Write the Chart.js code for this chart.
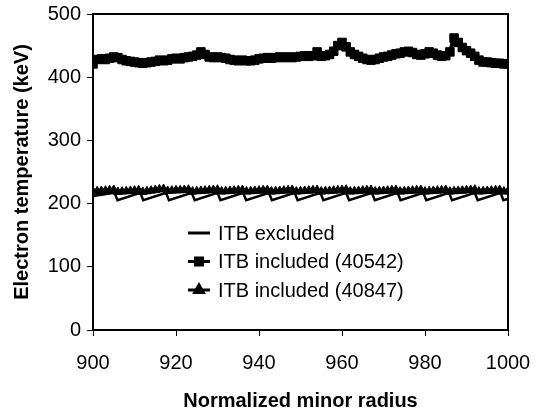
<!DOCTYPE html>
<html>
<head>
<meta charset="utf-8">
<script src="https://cdn.jsdelivr.net/npm/chart.js@4/dist/chart.umd.min.js"></script>
<style>
  html, body { margin: 0; padding: 0; background: #fff; }
  #wrap { width: 548px; height: 411px; }
</style>
</head>
<body>
<div id="wrap"><canvas id="chart" width="548" height="411"></canvas></div>
<script>
// x positions (normalized minor radius) of the two marked series
var radius = [
  900, 901, 902, 903, 904, 905, 906, 907, 908, 909,
  910, 911, 912, 913, 914, 915, 916, 917, 918, 919,
  920, 921, 922, 923, 924, 925, 926, 927, 928, 929,
  930, 931, 932, 933, 934, 935, 936, 937, 938, 939,
  940, 941, 942, 943, 944, 945, 946, 947, 948, 949,
  950, 951, 952, 953, 954, 955, 956, 957, 958, 959,
  960, 961, 962, 963, 964, 965, 966, 967, 968, 969,
  970, 971, 972, 973, 974, 975, 976, 977, 978, 979,
  980, 981, 982, 983, 984, 985, 986, 987, 988, 989,
  990, 991, 992, 993, 994, 995, 996, 997, 998, 999,
  1000
];

// ITB included (40542), square markers
var te40542 = [
  421, 428, 429, 428, 430, 432, 431, 428, 426, 425,
  424, 423, 422, 423, 424, 425, 427, 426, 427, 429,
  430, 429, 431, 432, 433, 435, 440, 436, 432, 431,
  432, 431, 430, 428, 427, 426, 427, 426, 426, 427,
  429, 430, 431, 430, 431, 432, 431, 432, 431, 432,
  433, 434, 433, 434, 440, 433, 434, 436, 441, 450,
  455, 448, 440, 436, 433, 430, 428, 427, 428, 430,
  432, 433, 435, 437, 438, 440, 441, 439, 436, 435,
  437, 440, 438, 435, 433, 434, 440, 462, 455, 447,
  442, 438, 433, 427, 424, 424, 423, 422, 422, 421,
  421
];

// ITB included (40847), triangle markers
var te40847 = [
  219, 219.5, 220, 220.5, 221, 221.5, 218.5, 219, 219.5, 220,
  220.5, 221, 218.5, 219.5, 220.5, 221.5, 222.5, 223, 220, 220.5,
  221, 221, 221.5, 222, 219, 219.5, 220, 220.5, 221, 221.5,
  222, 219, 219.5, 220, 220.5, 221, 221.5, 219, 219.5, 220,
  220.5, 221, 221.5, 219, 219.5, 220, 220.5, 221, 221.5, 219,
  219.5, 220, 220.5, 221, 221.5, 219, 219.5, 220, 220.5, 221,
  221.5, 222, 219, 219.5, 220, 220.5, 221, 221.5, 219, 219.5,
  220, 220.5, 221, 221.5, 219, 219.5, 220, 220.5, 221, 221.5,
  219, 219.5, 220, 220.5, 221, 221.5, 219, 219.5, 220, 220.5,
  221, 221.5, 222, 219, 219.5, 220, 220.5, 221, 221.5, 219,
  219.5
];

// ITB excluded: sawtooth, corners
var excludedX = [
  900, 905.2, 905.9, 911.4, 912.1, 917.6, 918.3, 923.8, 924.5, 930.0,
  930.7, 936.2, 936.9, 942.4, 943.1, 948.6, 949.3, 954.8, 955.5, 961.0,
  961.7, 967.2, 967.9, 973.4, 974.1, 979.6, 980.3, 985.8, 986.5, 992.0,
  992.7, 998.2, 998.9, 1000
];
var excludedY = [
  212, 217, 205.5, 217, 205.5, 217, 205.5, 217, 205.5, 217,
  205.5, 217, 205.5, 217, 205.5, 217, 205.5, 217, 205.5, 217,
  205.5, 217, 205.5, 217, 205.5, 217, 205.5, 217, 205.5, 217,
  205.5, 217, 205.5, 207.5
];

var xTicks = [900, 920, 940, 960, 980, 1000];
var yTicks = [0, 100, 200, 300, 400, 500];

var FONT = '"Liberation Sans", Arial, sans-serif';

function toPoints(xs, ys) {
  return xs.map(function(x, i) {
    return { x: x, y: ys[i] };
  });
}

// closed black frame round the plot area
var frame = {
  id: 'frame',
  afterDatasetsDraw: function(chart) {
    var a = chart.chartArea;
    var ctx = chart.ctx;
    ctx.save();
    ctx.strokeStyle = '#000';
    ctx.lineWidth = 2;
    ctx.strokeRect(a.left, a.top, a.right - a.left, a.bottom - a.top);
    ctx.restore();
  }
};

// legend drawn inside the plot, below the curves
var insideLegend = {
  id: 'insideLegend',
  afterDraw: function(chart) {
    var a = chart.chartArea;
    var ctx = chart.ctx;
    var left = a.left + 95;
    var top = a.top + 219;
    ctx.save();
    ctx.font = '20px ' + FONT;
    ctx.textBaseline = 'middle';
    ctx.textAlign = 'left';
    chart.data.datasets.forEach(function(ds, i) {
      var y = top + i * 28.5;
      ctx.strokeStyle = '#000';
      ctx.fillStyle = '#000';
      ctx.lineWidth = 3;
      ctx.beginPath();
      ctx.moveTo(left, y);
      ctx.lineTo(left + 22, y);
      ctx.stroke();
      if (ds.pointRadius > 0) {
        Chart.helpers.drawPoint(ctx, {
          pointStyle: ds.pointStyle,
          radius: 5,
          rotation: 0,
          borderWidth: 1
        }, left + 11, y);
      }
      ctx.fillStyle = '#000';
      ctx.fillText(ds.label, left + 30, y + 1);
    });
    ctx.restore();
  }
};

new Chart(document.getElementById('chart').getContext('2d'), {
  type: 'line',
  data: {
    datasets: [{
      label: 'ITB excluded',
      data: toPoints(excludedX, excludedY),
      borderColor: '#000',
      borderWidth: 2.5,
      pointRadius: 0,
      tension: 0
    }, {
      label: 'ITB included (40542)',
      data: toPoints(radius, te40542),
      borderColor: '#000',
      backgroundColor: '#000',
      borderWidth: 4,
      pointStyle: 'rect',
      pointRadius: 6,
      pointBorderWidth: 1,
      tension: 0
    }, {
      label: 'ITB included (40847)',
      data: toPoints(radius, te40847),
      borderColor: '#000',
      backgroundColor: '#000',
      borderWidth: 3,
      pointStyle: 'triangle',
      pointRadius: 5,
      pointBorderWidth: 1,
      tension: 0
    }]
  },
  options: {
    responsive: false,
    animation: false,
    devicePixelRatio: 1,
    layout: {
      padding: { top: 6, right: 40, left: 6, bottom: 0 }
    },
    plugins: {
      legend: { display: false },
      tooltip: { enabled: false }
    },
    scales: {
      x: {
        type: 'linear',
        min: xTicks[0],
        max: xTicks[xTicks.length - 1],
        afterBuildTicks: function(scale) {
          scale.ticks = xTicks.map(function(v) { return { value: v }; });
        },
        afterFit: function(scale) { scale.height = 81; },
        grid: {
          drawOnChartArea: false,
          color: '#000',
          tickLength: 6,
          tickWidth: 1
        },
        border: { color: '#000', width: 2 },
        ticks: {
          color: '#000',
          padding: 15,
          maxRotation: 0,
          font: { family: FONT, size: 20 },
          callback: function(v) { return String(v); }
        },
        title: {
          display: true,
          text: 'Normalized minor radius',
          color: '#000',
          padding: 0,
          font: { family: FONT, size: 20, weight: 'bold', lineHeight: 1 }
        }
      },
      y: {
        min: yTicks[0],
        max: yTicks[yTicks.length - 1],
        afterBuildTicks: function(scale) {
          scale.ticks = yTicks.map(function(v) { return { value: v }; });
        },
        afterFit: function(scale) { scale.width = 87; },
        grid: {
          drawOnChartArea: false,
          color: '#000',
          tickLength: 6,
          tickWidth: 1
        },
        border: { color: '#000', width: 2 },
        ticks: {
          color: '#000',
          padding: 6,
          font: { family: FONT, size: 20, lineHeight: 0.8 },
          callback: function(v) { return String(v); }
        },
        title: {
          display: true,
          text: 'Electron temperature (keV)',
          color: '#000',
          padding: { top: 4, bottom: 0 },
          font: { family: FONT, size: 20, weight: 'bold', lineHeight: 1.2 }
        }
      }
    }
  },
  plugins: [frame, insideLegend]
});
</script>
</body>
</html>
